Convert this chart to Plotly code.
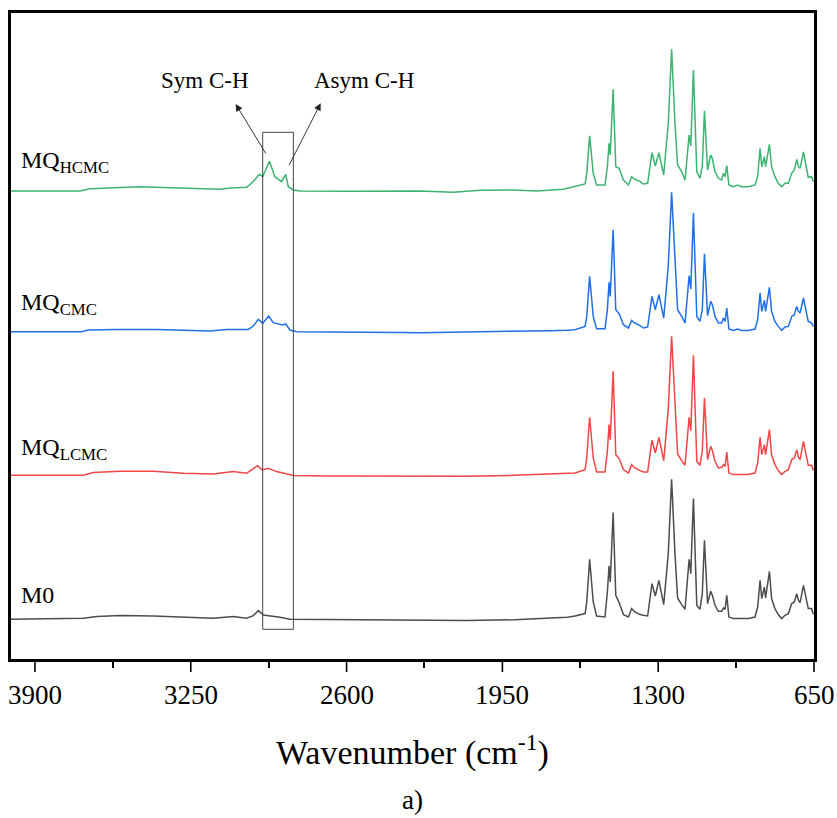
import plotly.graph_objects as go

# ---------------------------------------------------------------------------
# FTIR spectra (wavenumber in cm-1, absorbance in arbitrary units above each
# sample's own baseline). The spectra are stacked with a vertical offset.
# ---------------------------------------------------------------------------

samples = ["MQ<sub>HCMC</sub>", "MQ<sub>CMC</sub>", "MQ<sub>LCMC</sub>", "M0"]
colors = ["#3cb371", "#1f6fe6", "#f24545", "#4d4d4d"]
stack_offset = [4.68, 3.273, 1.837, 0.397]

# Fingerprint region shared wavenumber grid (1650 - 650 cm-1)
fp_wavenumber = [
    1647, 1605, 1598, 1586, 1571, 1557, 1522, 1512, 1505, 1500, 1488, 1477,
    1463, 1445, 1424, 1411, 1397, 1376, 1362, 1344, 1326, 1312, 1297, 1277,
    1258, 1244, 1230, 1219, 1202, 1188, 1171, 1164, 1153, 1139, 1126, 1116,
    1107, 1094, 1081, 1074, 1063, 1049, 1035, 1028, 1021, 1014, 1005, 987,
    968, 952, 924, 896, 885, 875, 868, 857, 852, 836, 827, 813, 799, 785,
    771, 757, 743, 732, 722, 715, 708, 694, 680, 674, 660, 653,
]

fp_hcmc = [
    0.043, 0.070, 0.177, 0.553, 0.177, 0.060, 0.060, 0.243, 0.477, 0.360, 1.017, 0.243,
    0.227, 0.110, 0.060, 0.143, 0.117, 0.097, 0.070, 0.077, 0.383, 0.250, 0.383, 0.160,
    0.677, 1.417, 0.677, 0.260, 0.193, 0.110, 0.560, 0.450, 1.210, 0.193, 0.127, 0.243,
    0.803, 0.210, 0.360, 0.327, 0.193, 0.127, 0.110, 0.177, 0.143, 0.253, 0.060, 0.043,
    0.060, 0.043, 0.043, 0.060, 0.143, 0.427, 0.243, 0.343, 0.243, 0.467, 0.243, 0.143,
    0.077, 0.043, 0.077, 0.077, 0.177, 0.210, 0.317, 0.243, 0.227, 0.390, 0.210, 0.137,
    0.143, 0.093,
]
fp_cmc = [
    0.020, 0.053, 0.153, 0.553, 0.153, 0.030, 0.030, 0.220, 0.493, 0.353, 1.020, 0.220,
    0.180, 0.070, 0.037, 0.113, 0.087, 0.060, 0.037, 0.047, 0.353, 0.220, 0.370, 0.137,
    0.653, 1.393, 0.653, 0.220, 0.153, 0.087, 0.560, 0.427, 1.187, 0.153, 0.103, 0.220,
    0.780, 0.160, 0.303, 0.270, 0.153, 0.087, 0.087, 0.137, 0.103, 0.237, 0.027, 0.013,
    0.027, 0.013, 0.013, 0.027, 0.120, 0.387, 0.203, 0.313, 0.203, 0.443, 0.203, 0.103,
    0.053, 0.013, 0.047, 0.053, 0.153, 0.170, 0.253, 0.203, 0.187, 0.337, 0.170, 0.103,
    0.087, 0.053,
]
fp_lcmc = [
    0.023, 0.057, 0.173, 0.580, 0.173, 0.033, 0.033, 0.240, 0.507, 0.357, 1.040, 0.207,
    0.167, 0.057, 0.023, 0.107, 0.073, 0.047, 0.033, 0.033, 0.350, 0.223, 0.380, 0.147,
    0.657, 1.390, 0.657, 0.213, 0.147, 0.100, 0.580, 0.447, 1.200, 0.140, 0.100, 0.240,
    0.773, 0.157, 0.290, 0.247, 0.140, 0.073, 0.080, 0.107, 0.090, 0.233, 0.023, 0.007,
    0.007, 0.007, 0.007, 0.023, 0.123, 0.380, 0.207, 0.307, 0.207, 0.457, 0.207, 0.107,
    0.047, 0.007, 0.040, 0.057, 0.157, 0.173, 0.257, 0.180, 0.157, 0.340, 0.173, 0.100,
    0.100, 0.047,
]
fp_m0 = [
    0.033, 0.057, 0.173, 0.600, 0.173, 0.033, 0.023, 0.273, 0.533, 0.373, 1.067, 0.240,
    0.167, 0.047, 0.023, 0.107, 0.073, 0.047, 0.040, 0.033, 0.357, 0.233, 0.390, 0.147,
    0.657, 1.400, 0.657, 0.213, 0.147, 0.100, 0.600, 0.457, 1.207, 0.140, 0.100, 0.257,
    0.790, 0.157, 0.280, 0.240, 0.140, 0.080, 0.080, 0.113, 0.100, 0.240, 0.023, 0.007,
    0.007, 0.007, 0.007, 0.023, 0.123, 0.390, 0.207, 0.323, 0.213, 0.480, 0.207, 0.107,
    0.047, 0.007, 0.040, 0.057, 0.157, 0.173, 0.257, 0.190, 0.167, 0.340, 0.173, 0.107,
    0.107, 0.050,
]

# High-wavenumber region (4000 - 1650 cm-1), including the C-H stretching bands
hw_hcmc_wn = [4000, 3712, 3670, 3462, 3267, 3128, 3086, 3017, 2990, 2964, 2950,
              2922, 2899, 2871, 2854, 2843, 2822, 2794, 2572, 2294, 2155, 2043,
              1904, 1807, 1696, 1660]
hw_hcmc = [0.0, 0.0, 0.023, 0.043, 0.027, 0.017, 0.030, 0.037, 0.093, 0.167, 0.143,
           0.297, 0.143, 0.093, 0.167, 0.043, 0.010, 0.0, -0.003, 0.0, -0.013, 0.007,
           0.010, 0.0, 0.017, 0.035]

hw_cmc_wn = [4000, 3705, 3677, 3559, 3392, 3288, 3170, 3100, 3010, 2989, 2968,
             2950, 2925, 2906, 2867, 2854, 2836, 2808, 2586, 2377, 2294, 2100,
             1900, 1750, 1680]
hw_cmc = [0.0, 0.0, 0.017, 0.023, 0.023, 0.013, 0.007, 0.023, 0.023, 0.057, 0.123,
          0.083, 0.157, 0.090, 0.067, 0.077, 0.017, 0.0, 0.0, -0.007, -0.010, -0.005,
          0.005, 0.010, 0.015]

hw_lcmc_wn = [4000, 3698, 3657, 3545, 3406, 3281, 3156, 3073, 3017, 2971, 2952,
              2927, 2892, 2850, 2822, 2655, 2294, 2100, 1900, 1750, 1680]
hw_lcmc = [0.0, 0.0, 0.027, 0.040, 0.040, 0.020, 0.013, 0.037, 0.020, 0.097, 0.053,
           0.070, 0.037, 0.013, -0.003, -0.007, -0.013, -0.010, 0.0, 0.010, 0.020]

hw_m0_wn = [4000, 3858, 3698, 3642, 3545, 3406, 3267, 3156, 3073, 3017, 2989,
            2968, 2947, 2927, 2878, 2836, 2656, 2294, 2100, 1900, 1750, 1680]
hw_m0 = [0.0, 0.003, 0.010, 0.027, 0.037, 0.033, 0.020, 0.010, 0.027, 0.010, 0.037,
         0.087, 0.043, 0.037, 0.020, 0.0, -0.003, -0.007, -0.012, -0.005, 0.010, 0.020]

high_region = [(hw_hcmc_wn, hw_hcmc), (hw_cmc_wn, hw_cmc), (hw_lcmc_wn, hw_lcmc), (hw_m0_wn, hw_m0)]
fingerprint = [fp_hcmc, fp_cmc, fp_lcmc, fp_m0]

# Axis ticks
x_range = [4000, 650]
x_tick_values = [3900, 3250, 2600, 1950, 1300, 650]
x_tick_labels = ["3900", "3250", "2600", "1950", "1300", "650"]
x_minor_values = [3575, 2925, 2275, 1625, 975]

SERIF = "Liberation Serif"

fig = go.Figure()

for name, color, off, (hw_wn, hw_ab), fp_ab in zip(samples, colors, stack_offset, high_region, fingerprint):
    wn = list(hw_wn) + fp_wavenumber
    ab = [v + off for v in list(hw_ab) + fp_ab]
    fig.add_trace(go.Scatter(
        x=wn, y=ab, mode="lines", name=name,
        line=dict(color=color, width=1.5), showlegend=False,
        hoverinfo="skip",
    ))

# Sample labels at the left of each spectrum
label_lift = [0.29, 0.28, 0.265, 0.24]
for name, off, lift in zip(samples, stack_offset, label_lift):
    fig.add_annotation(
        x=3968, y=off + lift, xref="x", yref="y", text=name, showarrow=False,
        xanchor="left", yanchor="middle",
        font=dict(family=SERIF, size=24, color="black"),
    )

# Box around the C-H stretching bands
fig.add_shape(type="rect", xref="x", yref="y", x0=2950, x1=2822, y0=0.297, y1=5.267,
              line=dict(color="#444444", width=1), fillcolor="rgba(0,0,0,0)")

# Band assignment arrows
fig.add_annotation(x=3063, y=5.55, ax=2933, ay=5.04, xref="x", yref="y", axref="x", ayref="y",
                   text="", showarrow=True, arrowhead=2, arrowsize=1.6, arrowwidth=0.9,
                   arrowcolor="#222222")
fig.add_annotation(x=2708, y=5.557, ax=2843, ay=4.923, xref="x", yref="y", axref="x", ayref="y",
                   text="", showarrow=True, arrowhead=2, arrowsize=1.6, arrowwidth=0.9,
                   arrowcolor="#222222")
fig.add_annotation(x=3191, y=5.79, xref="x", yref="y", text="Sym C-H", showarrow=False,
                   xanchor="center", yanchor="middle",
                   font=dict(family=SERIF, size=23, color="black"))
fig.add_annotation(x=2527, y=5.79, xref="x", yref="y", text="Asym C-H", showarrow=False,
                   xanchor="center", yanchor="middle",
                   font=dict(family=SERIF, size=23, color="black"))

# Long (labelled) ticks: headless annotation arrows hanging 14 px below the axis
for val in x_tick_values:
    fig.add_annotation(x=val, y=0, xref="x", yref="paper", ax=0, ay=14.5,
                       text="", showarrow=True, arrowhead=0, arrowwidth=1.6,
                       arrowcolor="black", standoff=0, startstandoff=0)

# Tick labels
for val, lab in zip(x_tick_values, x_tick_labels):
    fig.add_annotation(x=val, y=-0.055, xref="x", yref="paper", text=lab, showarrow=False,
                       xanchor="center", yanchor="middle",
                       font=dict(family=SERIF, size=27, color="black"))

# Axis title
fig.add_annotation(x=0.5, y=-0.141, xref="paper", yref="paper",
                   text="Wavenumber (cm<sup>-1</sup>)", showarrow=False,
                   xanchor="center", yanchor="middle",
                   font=dict(family=SERIF, size=34, color="black"))

# Panel tag
fig.add_annotation(x=0.5, y=-0.218, xref="paper", yref="paper", text="a)", showarrow=False,
                   xanchor="center", yanchor="middle",
                   font=dict(family=SERIF, size=27, color="black"))

fig.update_layout(
    xaxis=dict(
        range=x_range, autorange=False, automargin=False,
        tickmode="array", tickvals=x_minor_values, showticklabels=False,
        ticks="outside", ticklen=6, tickwidth=1.6, tickcolor="black",
        showline=True, linecolor="black", linewidth=2.5, mirror=True,
        showgrid=False, zeroline=False,
    ),
    yaxis=dict(
        range=[0, 6.46], autorange=False, automargin=False,
        showticklabels=False, ticks="", showgrid=False, zeroline=False,
        showline=True, linecolor="black", linewidth=2.5, mirror=True,
    ),
    template="none",
    width=837, height=818,
    margin=dict(l=11, r=23, t=13, b=159),
    paper_bgcolor="white", plot_bgcolor="white",
)

fig.write_html("out.html")
